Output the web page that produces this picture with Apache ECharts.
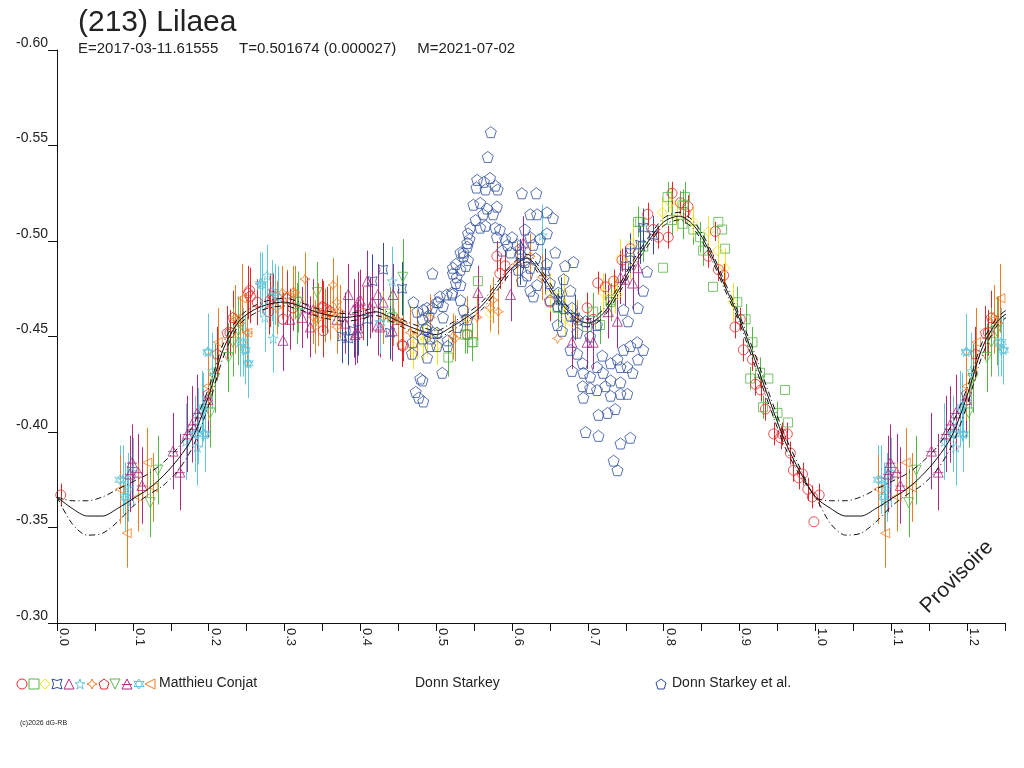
<!DOCTYPE html>
<html lang="fr">
<head>
<meta charset="UTF-8">
<title>(213) Lilaea</title>
<script src="https://cdn.jsdelivr.net/npm/echarts@6/dist/echarts.min.js"></script>
<style>
    html, body { margin: 0; padding: 0; background: #fff; }
    #chart { width: 1024px; height: 768px; }
</style>
</head>
<body>
<div id="chart"></div>
<script>
    // fit (solid) and its two envelopes (dash-dot), phase grid 0..1
    const fitPhase = [0.00, 0.02, 0.04, 0.06, 0.08, 0.10, 0.12, 0.14, 0.16, 0.18,
        0.20, 0.22, 0.24, 0.26, 0.28, 0.30, 0.32, 0.34, 0.36, 0.38,
        0.40, 0.42, 0.44, 0.46, 0.48, 0.50, 0.52, 0.54, 0.56, 0.58,
        0.60, 0.62, 0.64, 0.66, 0.68, 0.70, 0.72, 0.74, 0.76, 0.78,
        0.80, 0.82, 0.84, 0.86, 0.88, 0.90, 0.92, 0.94, 0.96, 0.98, 1.00];
    const fitMag = [-0.366, -0.360, -0.356, -0.356, -0.360, -0.365, -0.370, -0.377, -0.386, -0.398,
        -0.419, -0.444, -0.458, -0.464, -0.467, -0.468, -0.466, -0.463, -0.461, -0.460,
        -0.461, -0.463, -0.460, -0.456, -0.453, -0.451, -0.455, -0.460, -0.466, -0.476,
        -0.486, -0.491, -0.482, -0.470, -0.461, -0.457, -0.462, -0.474, -0.488, -0.500,
        -0.510, -0.513, -0.508, -0.495, -0.477, -0.459, -0.438, -0.416, -0.395, -0.379, -0.366];
    const fitHigh = [-0.366, -0.364, -0.364, -0.366, -0.370, -0.374, -0.378, -0.384, -0.392, -0.404,
        -0.423, -0.447, -0.460, -0.466, -0.469, -0.470, -0.468, -0.465, -0.463, -0.462,
        -0.463, -0.465, -0.462, -0.458, -0.455, -0.453, -0.457, -0.462, -0.468, -0.478,
        -0.488, -0.493, -0.484, -0.472, -0.463, -0.459, -0.464, -0.476, -0.490, -0.502,
        -0.512, -0.515, -0.510, -0.497, -0.479, -0.461, -0.441, -0.419, -0.398, -0.381, -0.366];
    const fitLow = [-0.366, -0.352, -0.346, -0.347, -0.353, -0.361, -0.367, -0.372, -0.380, -0.393,
        -0.414, -0.440, -0.456, -0.462, -0.465, -0.466, -0.464, -0.461, -0.459, -0.458,
        -0.459, -0.461, -0.458, -0.454, -0.451, -0.449, -0.453, -0.458, -0.464, -0.474,
        -0.484, -0.489, -0.480, -0.468, -0.459, -0.455, -0.460, -0.472, -0.486, -0.498,
        -0.508, -0.511, -0.506, -0.493, -0.475, -0.457, -0.435, -0.413, -0.392, -0.377, -0.366];

    // Matthieu Conjat sessions: [phase, magnitude, error]
    const conjatCircle = [[0.005, -0.367, 0.006], [0.228, -0.452, 0.012], [0.254, -0.474, 0.012],
        [0.255, -0.471, 0.014], [0.264, -0.468, 0.012], [0.279, -0.463, 0.012], [0.281, -0.469, 0.014],
        [0.285, -0.471, 0.012], [0.298, -0.459, 0.014], [0.311, -0.465, 0.012], [0.318, -0.468, 0.012],
        [0.351, -0.465, 0.014], [0.351, -0.453, 0.014], [0.356, -0.464, 0.012], [0.360, -0.463, 0.010],
        [0.404, -0.462, 0.014], [0.456, -0.445, 0.008], [0.541, -0.451, 0.008], [0.580, -0.492, 0.008],
        [0.584, -0.483, 0.008], [0.591, -0.487, 0.008], [0.650, -0.468, 0.010], [0.699, -0.465, 0.008],
        [0.707, -0.459, 0.008], [0.713, -0.478, 0.006], [0.723, -0.476, 0.007], [0.734, -0.479, 0.006],
        [0.745, -0.490, 0.006], [0.756, -0.496, 0.006], [0.779, -0.514, 0.006], [0.786, -0.506, 0.006],
        [0.793, -0.502, 0.006], [0.806, -0.502, 0.006], [0.811, -0.525, 0.006], [0.822, -0.520, 0.006],
        [0.828, -0.515, 0.006], [0.832, -0.518, 0.006], [0.859, -0.492, 0.006], [0.868, -0.505, 0.005],
        [0.872, -0.485, 0.006], [0.879, -0.482, 0.006], [0.894, -0.455, 0.006], [0.901, -0.459, 0.006],
        [0.905, -0.443, 0.006], [0.917, -0.438, 0.006], [0.921, -0.425, 0.006], [0.928, -0.422, 0.006],
        [0.934, -0.412, 0.006], [0.945, -0.399, 0.006], [0.954, -0.397, 0.006], [0.956, -0.399, 0.006],
        [0.963, -0.399, 0.006], [0.967, -0.389, 0.006], [0.971, -0.380, 0.006], [0.978, -0.376, 0.006],
        [0.983, -0.378, 0.006], [0.990, -0.370, 0.006], [0.996, -0.366, 0.006], [0.998, -0.353, 0]];
    const conjatSquare = [[0.439, -0.462, 0.014], [0.442, -0.460, 0.012], [0.516, -0.439, 0.010],
        [0.538, -0.451, 0.010], [0.541, -0.451, 0.010], [0.547, -0.447, 0.010], [0.549, -0.447, 0],
        [0.555, -0.479, 0.008], [0.660, -0.465, 0.010], [0.699, -0.455, 0.010], [0.707, -0.463, 0.010],
        [0.716, -0.456, 0.010], [0.730, -0.469, 0.008], [0.730, -0.468, 0.010], [0.766, -0.510, 0.008],
        [0.769, -0.510, 0], [0.773, -0.497, 0.008], [0.799, -0.486, 0], [0.805, -0.523, 0.008],
        [0.811, -0.511, 0.008], [0.825, -0.509, 0.008], [0.826, -0.519, 0.008], [0.828, -0.523, 0.008],
        [0.839, -0.506, 0.008], [0.848, -0.502, 0.008], [0.852, -0.495, 0.008], [0.865, -0.476, 0],
        [0.872, -0.510, 0], [0.877, -0.506, 0], [0.881, -0.496, 0], [0.897, -0.468, 0.008],
        [0.908, -0.459, 0.008], [0.914, -0.428, 0.006], [0.917, -0.447, 0.008], [0.927, -0.431, 0.008],
        [0.931, -0.413, 0.006], [0.938, -0.428, 0], [0.950, -0.410, 0.006], [0.960, -0.422, 0],
        [0.964, -0.405, 0]];
    const conjatDiamond = [[0.470, -0.443, 0.010], [0.475, -0.448, 0.010], [0.482, -0.447, 0.010],
        [0.488, -0.450, 0.010], [0.501, -0.445, 0.010], [0.571, -0.462, 0.010], [0.650, -0.473, 0.010],
        [0.668, -0.473, 0.010], [0.670, -0.460, 0.010], [0.679, -0.457, 0.010], [0.720, -0.473, 0.010],
        [0.727, -0.470, 0.010], [0.736, -0.472, 0.010], [0.739, -0.472, 0.008], [0.743, -0.491, 0.010],
        [0.756, -0.490, 0.010], [0.759, -0.499, 0.010], [0.798, -0.515, 0.008], [0.809, -0.520, 0.008],
        [0.818, -0.513, 0.008], [0.839, -0.510, 0.008], [0.859, -0.505, 0.008], [0.871, -0.495, 0.008],
        [0.881, -0.486, 0.010], [0.891, -0.468, 0.010]];
    const conjatCusp = [[0.376, -0.450, 0.014], [0.384, -0.449, 0.014], [0.391, -0.453, 0.014],
        [0.397, -0.454, 0.014], [0.409, -0.459, 0.014], [0.416, -0.479, 0.014], [0.430, -0.485, 0.014],
        [0.439, -0.452, 0.014], [0.455, -0.475, 0.014], [0.611, -0.489, 0.012], [0.644, -0.484, 0.012],
        [0.664, -0.469, 0.012], [0.683, -0.460, 0.012], [0.749, -0.487, 0.010], [0.756, -0.494, 0.010],
        [0.769, -0.498, 0.010], [0.773, -0.507, 0.010], [0.786, -0.503, 0.010]];
    const conjatTriangle = [[0.298, -0.448, 0.016], [0.307, -0.459, 0.016], [0.323, -0.460, 0.016],
        [0.330, -0.465, 0.016], [0.334, -0.455, 0.016], [0.338, -0.464, 0.016], [0.369, -0.459, 0.016],
        [0.380, -0.457, 0.016], [0.384, -0.472, 0.016], [0.391, -0.464, 0.016], [0.393, -0.451, 0.016],
        [0.396, -0.452, 0.016], [0.397, -0.468, 0.016], [0.400, -0.469, 0.016], [0.409, -0.479, 0.016],
        [0.413, -0.465, 0.016], [0.416, -0.468, 0.016], [0.423, -0.472, 0.016], [0.423, -0.456, 0.016],
        [0.426, -0.455, 0.016], [0.430, -0.468, 0.016], [0.442, -0.453, 0.016], [0.443, -0.472, 0.016],
        [0.449, -0.459, 0.016], [0.555, -0.473, 0.014], [0.598, -0.472, 0.014], [0.615, -0.499, 0.014],
        [0.679, -0.447, 0.014], [0.699, -0.447, 0.014], [0.707, -0.447, 0.014], [0.727, -0.463, 0.014],
        [0.739, -0.458, 0.014], [0.743, -0.481, 0.014], [0.749, -0.480, 0.014], [0.759, -0.478, 0.014],
        [0.766, -0.486, 0.014]];
    const conjatStar = [[0.087, -0.375, 0.018], [0.092, -0.364, 0.018], [0.094, -0.371, 0.018],
        [0.100, -0.379, 0.018], [0.170, -0.395, 0.020], [0.182, -0.399, 0.020], [0.185, -0.392, 0.020],
        [0.186, -0.403, 0.020], [0.191, -0.412, 0.020], [0.195, -0.399, 0.020], [0.199, -0.442, 0.020],
        [0.205, -0.432, 0.020], [0.241, -0.447, 0.018], [0.248, -0.443, 0.018], [0.252, -0.436, 0.018],
        [0.268, -0.477, 0.016], [0.268, -0.478, 0.016], [0.270, -0.478, 0.016], [0.274, -0.460, 0.018],
        [0.277, -0.482, 0.016], [0.284, -0.474, 0.016], [0.285, -0.449, 0.018], [0.288, -0.472, 0.016],
        [0.292, -0.471, 0.016], [0.442, -0.479, 0.018], [0.640, -0.503, 0.016]];
    const conjatSpark = [[0.235, -0.460, 0.014], [0.241, -0.457, 0.014], [0.251, -0.452, 0.014],
        [0.290, -0.465, 0.014], [0.297, -0.473, 0.014], [0.303, -0.471, 0.014], [0.311, -0.473, 0.014],
        [0.314, -0.473, 0.014], [0.327, -0.480, 0.014], [0.338, -0.460, 0.014], [0.340, -0.455, 0.014],
        [0.344, -0.459, 0.014], [0.344, -0.464, 0.014], [0.354, -0.461, 0.014], [0.360, -0.462, 0.014],
        [0.364, -0.477, 0.014], [0.369, -0.463, 0.014], [0.369, -0.468, 0.014], [0.369, -0.455, 0.014],
        [0.373, -0.463, 0.014], [0.430, -0.460, 0.014], [0.443, -0.459, 0.014], [0.449, -0.459, 0.014],
        [0.456, -0.457, 0.014], [0.466, -0.452, 0.014], [0.475, -0.452, 0.012], [0.492, -0.460, 0.012],
        [0.522, -0.450, 0.012], [0.525, -0.449, 0.012], [0.541, -0.459, 0.012], [0.554, -0.460, 0.012],
        [0.571, -0.465, 0.012], [0.575, -0.469, 0.012], [0.582, -0.463, 0.012], [0.607, -0.488, 0.012],
        [0.624, -0.492, 0.012], [0.640, -0.481, 0.012], [0.660, -0.449, 0], [0.686, -0.459, 0.010]];
    const conjatPentagon = [[0.199, -0.420, 0.014], [0.211, -0.441, 0.014], [0.224, -0.452, 0.014],
        [0.232, -0.460, 0.014], [0.252, -0.473, 0.014], [0.303, -0.470, 0.014], [0.350, -0.466, 0.014],
        [0.455, -0.446, 0.012]];
    const conjatTriDown = [[0.123, -0.363, 0.018], [0.133, -0.380, 0.018], [0.202, -0.410, 0.018],
        [0.208, -0.428, 0.018], [0.226, -0.439, 0.018], [0.232, -0.447, 0.018], [0.239, -0.453, 0.018],
        [0.317, -0.462, 0.016], [0.318, -0.468, 0.016], [0.343, -0.473, 0.016], [0.456, -0.481, 0.020]];
    const conjatBarTri = [[0.096, -0.378, 0.020], [0.099, -0.384, 0.020], [0.107, -0.379, 0.020],
        [0.112, -0.372, 0.020], [0.153, -0.390, 0.020], [0.162, -0.379, 0.020], [0.172, -0.399, 0.020],
        [0.178, -0.404, 0.020], [0.185, -0.410, 0.020], [0.199, -0.417, 0.020]];
    const conjatHex = [[0.083, -0.375, 0.018], [0.090, -0.366, 0.018], [0.182, -0.399, 0.018],
        [0.193, -0.413, 0.018], [0.195, -0.399, 0.018], [0.199, -0.442, 0.018], [0.245, -0.447, 0.018],
        [0.248, -0.443, 0.018], [0.252, -0.436, 0.018], [0.426, -0.457, 0.016]];
    const conjatTriLeft = [[0.083, -0.370, 0.018], [0.092, -0.347, 0.018], [0.107, -0.366, 0.018],
        [0.119, -0.384, 0.018], [0.127, -0.371, 0.018], [0.199, -0.424, 0.018], [0.212, -0.447, 0.018],
        [0.235, -0.459, 0.018], [0.244, -0.470, 0.018], [0.251, -0.452, 0.018]];

    // Donn Starkey et al.: [phase, magnitude]
    const starkeyEtAl = [[0.572, -0.557], [0.568, -0.544], [0.554, -0.532], [0.563, -0.531], [0.571, -0.533],
        [0.578, -0.529], [0.565, -0.527], [0.581, -0.527], [0.553, -0.528], [0.549, -0.519], [0.558, -0.520],
        [0.567, -0.517], [0.580, -0.518], [0.562, -0.514], [0.575, -0.514], [0.552, -0.511], [0.558, -0.507],
        [0.565, -0.508], [0.545, -0.507], [0.542, -0.504], [0.544, -0.501], [0.541, -0.497], [0.532, -0.494],
        [0.536, -0.492], [0.542, -0.490], [0.526, -0.488], [0.539, -0.487], [0.522, -0.483], [0.527, -0.481],
        [0.526, -0.478], [0.532, -0.477], [0.495, -0.483], [0.505, -0.471], [0.514, -0.472], [0.521, -0.473],
        [0.503, -0.468], [0.509, -0.466], [0.495, -0.465], [0.470, -0.468], [0.475, -0.463], [0.483, -0.464],
        [0.490, -0.461], [0.482, -0.459], [0.469, -0.447], [0.482, -0.449], [0.486, -0.454], [0.496, -0.452],
        [0.492, -0.449], [0.501, -0.445], [0.515, -0.445], [0.488, -0.439], [0.479, -0.428], [0.482, -0.427],
        [0.508, -0.431], [0.473, -0.421], [0.477, -0.418], [0.483, -0.416], [0.488, -0.465], [0.501, -0.468],
        [0.509, -0.460], [0.521, -0.472], [0.532, -0.469], [0.536, -0.464], [0.488, -0.455], [0.501, -0.452],
        [0.515, -0.448], [0.492, -0.445], [0.528, -0.455], [0.541, -0.459], [0.468, -0.441], [0.522, -0.486],
        [0.532, -0.485], [0.536, -0.494], [0.541, -0.499],
        [0.578, -0.507], [0.584, -0.506], [0.591, -0.501], [0.600, -0.502], [0.580, -0.502], [0.594, -0.498],
        [0.607, -0.498], [0.587, -0.495], [0.598, -0.494], [0.611, -0.496], [0.613, -0.525], [0.624, -0.514],
        [0.633, -0.514], [0.646, -0.515], [0.654, -0.512], [0.632, -0.525], [0.617, -0.506], [0.624, -0.502],
        [0.637, -0.501], [0.646, -0.504], [0.628, -0.498], [0.611, -0.493], [0.617, -0.489], [0.624, -0.486],
        [0.631, -0.491], [0.620, -0.482], [0.613, -0.479], [0.624, -0.474], [0.633, -0.477], [0.608, -0.485],
        [0.628, -0.471], [0.646, -0.488], [0.657, -0.494], [0.670, -0.487], [0.681, -0.489], [0.668, -0.480],
        [0.650, -0.478], [0.661, -0.473], [0.677, -0.474], [0.650, -0.469], [0.660, -0.466], [0.668, -0.465],
        [0.679, -0.465], [0.677, -0.461], [0.687, -0.459], [0.697, -0.458], [0.660, -0.456], [0.666, -0.453],
        [0.686, -0.452], [0.703, -0.450], [0.712, -0.456], [0.677, -0.443], [0.686, -0.441], [0.693, -0.436],
        [0.679, -0.432], [0.694, -0.431], [0.703, -0.429], [0.712, -0.434], [0.719, -0.440], [0.730, -0.436],
        [0.739, -0.438], [0.747, -0.443], [0.756, -0.445], [0.765, -0.447], [0.773, -0.443], [0.766, -0.438],
        [0.743, -0.434], [0.752, -0.434], [0.759, -0.431], [0.720, -0.431], [0.730, -0.427], [0.743, -0.426],
        [0.693, -0.424], [0.703, -0.423], [0.712, -0.422], [0.723, -0.424], [0.730, -0.419], [0.743, -0.420],
        [0.752, -0.420], [0.694, -0.418], [0.714, -0.409], [0.726, -0.410], [0.736, -0.412], [0.697, -0.400],
        [0.714, -0.398], [0.743, -0.394], [0.756, -0.397], [0.734, -0.385], [0.739, -0.380], [0.747, -0.464],
        [0.766, -0.465], [0.753, -0.458], [0.773, -0.474], [0.778, -0.484]];

    const RED = '#e4262a', GREEN = '#58b547', YELLOW = '#f2e31b', NAVY = '#2e4d9c',
        PURPLE = '#ad2a7f', CYAN = '#62c5d8', ORANGE = '#f07c22';
    const FONT = '"Liberation Sans", Arial, sans-serif';

    // symbol outlines, drawn in a 10x10 box
    const shapes = {
        circle: 'M5,0 A5,5 0 1,1 4.99,0 Z',
        square: 'M0,0 L10,0 L10,10 L0,10 Z',
        diamond: 'M5,0 L10,5 L5,10 L0,5 Z',
        cusp: 'M0,0 Q5,3 10,0 Q7,5 10,10 Q5,7 0,10 Q3,5 0,0 Z',
        triangle: 'M5,0 L10,9 L0,9 Z',
        star: 'M5,0 L6.2,3.6 L10,3.6 L6.9,5.9 L8.1,9.5 L5,7.3 L1.9,9.5 L3.1,5.9 L0,3.6 L3.8,3.6 Z',
        spark: 'M5,0 Q5.8,4.2 10,5 Q5.8,5.8 5,10 Q4.2,5.8 0,5 Q4.2,4.2 5,0 Z',
        pentagon: 'M5,0 L10,3.8 L8.1,10 L1.9,10 L0,3.8 Z',
        triDown: 'M0,1 L10,1 L5,10 Z',
        barTri: 'M5,0 L10,9 L0,9 Z M0,5 L10,5',
        hex: 'M5,0 L9.5,7.5 L0.5,7.5 Z M0.5,2.5 L9.5,2.5 L5,10 Z',
        triLeft: 'M10,0 L10,10 L1,5 Z'
    };

    const conjatSessions = [
        {data: conjatCircle, color: RED, shape: shapes.circle, size: 10},
        {data: conjatSquare, color: GREEN, shape: shapes.square, size: 9},
        {data: conjatDiamond, color: YELLOW, shape: shapes.diamond, size: 10},
        {data: conjatCusp, color: NAVY, shape: shapes.cusp, size: 9},
        {data: conjatTriangle, color: PURPLE, shape: shapes.triangle, size: 10},
        {data: conjatStar, color: CYAN, shape: shapes.star, size: 10},
        {data: conjatSpark, color: ORANGE, shape: shapes.spark, size: 10},
        {data: conjatPentagon, color: RED, shape: shapes.pentagon, size: 10},
        {data: conjatTriDown, color: GREEN, shape: shapes.triDown, size: 10},
        {data: conjatBarTri, color: PURPLE, shape: shapes.barTri, size: 10},
        {data: conjatHex, color: CYAN, shape: shapes.hex, size: 10},
        {data: conjatTriLeft, color: ORANGE, shape: shapes.triLeft, size: 9}
    ];

    // phases below 0.25 are shown again after 1.0
    function wrap(points) {
        let out = points.slice();
        points.forEach(function (p) {
            if (p[0] < 0.25) out.push([p[0] + 1].concat(p.slice(1)));
        });
        return out;
    }

    function curve(mags) {
        let out = [];
        fitPhase.forEach(function (p, i) { out.push([p, mags[i]]); });
        fitPhase.forEach(function (p, i) {
            if (p > 0 && p <= 0.26) out.push([p + 1, mags[i]]);
        });
        return out;
    }

    function errorBars(points, color) {
        return {
            type: 'custom',
            silent: true,
            clip: true,
            z: 2,
            encode: {x: 0, y: 1},
            data: points,
            renderItem: function (params, api) {
                let x = api.value(0), y = api.value(1), e = api.value(2);
                if (!e) return null;
                let a = api.coord([x, y - e]);
                let b = api.coord([x, y + e]);
                let px = Math.round(a[0]) + 0.5;
                return {
                    type: 'line',
                    shape: {x1: px, y1: a[1], x2: px, y2: b[1]},
                    style: {stroke: color, lineWidth: 1}
                };
            }
        };
    }

    function fitLine(mags, dashed) {
        return {
            type: 'line',
            data: curve(mags),
            symbol: 'none',
            smooth: 0.3,
            silent: true,
            z: 4,
            lineStyle: {color: '#111', width: 1, type: dashed ? [6, 3, 1, 3] : 'solid'}
        };
    }

    let series = [];
    conjatSessions.forEach(function (s) {
        series.push(errorBars(wrap(s.data), s.color));
    });
    conjatSessions.forEach(function (s) {
        series.push({
            type: 'scatter',
            data: wrap(s.data),
            symbol: 'path://' + s.shape,
            symbolSize: s.size,
            silent: true,
            z: 3,
            itemStyle: {color: 'rgba(0,0,0,0)', borderColor: s.color, borderWidth: 1}
        });
    });
    series.push(fitLine(fitHigh, true));
    series.push(fitLine(fitLow, true));
    series.push(fitLine(fitMag, false));
    series.push({
        type: 'scatter',
        data: wrap(starkeyEtAl),
        symbol: 'path://' + shapes.pentagon,
        symbolSize: 11,
        silent: true,
        z: 5,
        itemStyle: {color: 'rgba(0,0,0,0)', borderColor: NAVY, borderWidth: 1}
    });

    // legend row: symbol outlines drawn by a custom series outside the grid
    const legendX = [22, 34, 45, 57, 69, 80, 92, 104, 115, 127, 139, 150, 661];
    const legendMarks = conjatSessions.map(function (s) { return {shape: s.shape, color: s.color}; })
        .concat([{shape: shapes.pentagon, color: NAVY}]);
    series.push({
        type: 'custom',
        coordinateSystem: 'none',
        silent: true,
        data: legendX,
        renderItem: function (params, api) {
            let m = legendMarks[params.dataIndex];
            let cx = legendX[params.dataIndex];
            return {
                type: 'path',
                shape: {pathData: m.shape, layout: 'cover', x: cx - 5, y: 679, width: 10, height: 10},
                style: {fill: 'none', stroke: m.color, lineWidth: 1}
            };
        }
    });

    let graphics = [];
    const legendTexts = [[159, 'Matthieu Conjat'], [415, 'Donn Starkey'], [672, 'Donn Starkey et al.']];
    legendTexts.forEach(function (t) {
        graphics.push({
            type: 'text', left: t[0], top: 676,
            style: {text: t[1], fill: '#222', font: '14px ' + FONT}
        });
    });
    graphics.push({
        type: 'text', x: 957, y: 577, rotation: Math.PI / 4,
        style: {text: 'Provisoire', fill: '#222', font: '21px ' + FONT,
            textAlign: 'center', textVerticalAlign: 'middle'}
    });
    graphics.push({
        type: 'text', left: 20, top: 720,
        style: {text: '(c)2026 dG-RB', fill: '#222', font: '7px ' + FONT}
    });

    let myChart = echarts.init(document.getElementById('chart'));
    myChart.setOption({
        animation: false,
        backgroundColor: '#fff',
        title: {
            text: '(213) Lilaea',
            subtext: 'E=2017-03-11.61555     T=0.501674 (0.000027)     M=2021-07-02',
            left: 73,
            top: 3,
            itemGap: 3,
            textStyle: {fontSize: 30, fontWeight: 'normal', color: '#222', fontFamily: FONT},
            subtextStyle: {fontSize: 15, color: '#222', fontFamily: FONT}
        },
        grid: {left: 57, right: 19, top: 50, bottom: 145, containLabel: false},
        xAxis: {
            type: 'value',
            min: 0,
            max: 1.25,
            interval: 0.05,
            axisLine: {onZero: false, lineStyle: {color: '#111', width: 1}},
            axisTick: {length: 8, lineStyle: {color: '#111'}},
            splitLine: {show: false},
            axisLabel: {
                rotate: -90,
                margin: 5,
                verticalAlign: 'bottom',
                color: '#222',
                fontSize: 13,
                fontFamily: FONT,
                formatter: function (v) {
                    return Math.round(v * 100) % 10 === 0 ? v.toFixed(1) : '';
                }
            }
        },
        yAxis: {
            type: 'value',
            inverse: true,
            min: -0.60,
            max: -0.30,
            interval: 0.05,
            axisLine: {show: true, lineStyle: {color: '#111', width: 1}},
            axisTick: {show: true, length: 9, lineStyle: {color: '#111'}},
            splitLine: {show: false},
            axisLabel: {
                margin: 9,
                verticalAlign: 'bottom',
                color: '#222',
                fontSize: 14,
                fontFamily: FONT,
                formatter: function (v) { return v.toFixed(2); }
            }
        },
        graphic: graphics,
        series: series
    });
</script>
</body>
</html>
